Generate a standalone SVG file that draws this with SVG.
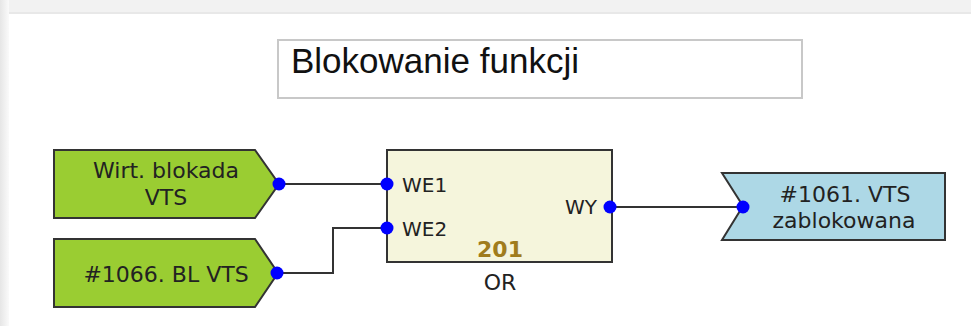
<svg xmlns="http://www.w3.org/2000/svg" width="971" height="326" viewBox="0 0 971 326">
<defs>
<linearGradient id="lg" x1="0" y1="0" x2="1" y2="0"><stop offset="0" stop-color="#e6e6e6"/><stop offset="1" stop-color="#fafafa"/></linearGradient>
</defs>
<style>
.node{stroke:#333;stroke-width:2}
.in{fill:#9acd32}
.out{fill:#add8e6}
.blk{fill:#f5f5dc}
.t{font-family:"DejaVu Sans",Verdana,sans-serif;font-size:22px;fill:#222}
.s{font-size:20px}
.c{text-anchor:middle}
.dot{fill:#0000ff}
.wire{fill:none;stroke:#333;stroke-width:2}
</style>
<rect x="0" y="0" width="971" height="326" fill="#ffffff"/>
<rect x="0" y="0" width="971" height="13" fill="#f2f2f2"/>
<rect x="0" y="12" width="971" height="2" fill="#e8e8e8"/>
<rect x="0" y="0" width="9" height="326" fill="url(#lg)"/>
<g id="title">
<rect x="278" y="40" width="524" height="58" fill="#fff" stroke="#c8c8c8" stroke-width="2"/>
<text x="291" y="73" font-family="'Liberation Sans',Arial,sans-serif" font-size="35" fill="#111">Blokowanie funkcji</text>
</g>
<g id="connectors">
<polyline class="wire" points="279,184 388,184"/>
<polyline class="wire" points="277,273 333,273 333,228 388,228"/>
<polyline class="wire" points="610,207 743,207"/>
</g>
<g id="in1">
<polygon class="node in" points="54,150 255,150 279,184 255,218 54,218"/>
<text class="t c" x="166" y="178">Wirt. blokada</text>
<text class="t c" x="166" y="205">VTS</text>
<circle class="dot" cx="279" cy="184" r="6.5"/>
</g>
<g id="in2">
<polygon class="node in" points="54,239 255,239 278,273 255,307 54,307"/>
<text class="t c" x="166" y="282">#1066. BL VTS</text>
<circle class="dot" cx="277" cy="273" r="6.5"/>
</g>
<g id="or201">
<rect class="node blk" x="387" y="150" width="225" height="112"/>
<text class="t s" x="402" y="192">WE1</text>
<text class="t s" x="402" y="236">WE2</text>
<text class="t s" x="597" y="214" text-anchor="end">WY</text>
<text x="500" y="257" text-anchor="middle" font-family="'DejaVu Sans',Verdana,sans-serif" font-size="22" font-weight="bold" fill="#a07c1c">201</text>
<text class="t c" x="500" y="290">OR</text>
<circle class="dot" cx="387" cy="184" r="6.5"/>
<circle class="dot" cx="387" cy="228" r="6.5"/>
<circle class="dot" cx="610" cy="207" r="6.5"/>
</g>
<g id="out1">
<polygon class="node out" points="722,173 945,173 945,240 722,240 743,206"/>
<text class="t c" x="845" y="202">#1061. VTS</text>
<text class="t c" x="844" y="228">zablokowana</text>
<circle class="dot" cx="743" cy="207" r="6.5"/>
</g>
</svg>
